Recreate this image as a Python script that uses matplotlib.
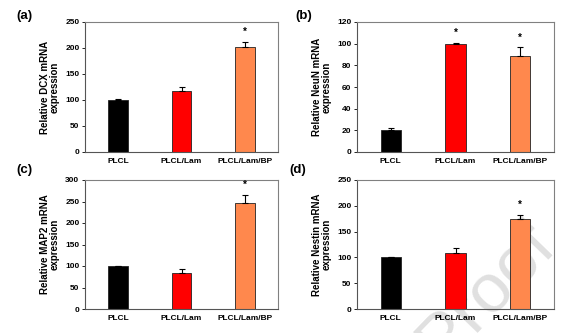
import matplotlib.pyplot as plt

plt.rcParams['font.family'] = ['Liberation Sans', 'DejaVu Sans']
plt.rcParams['font.weight'] = 'bold'

groups = ['PLCL', 'PLCL/Lam', 'PLCL/Lam/BP']
colors = ['#000000', '#ff0000', '#ff884d']

dcx = [100, 117, 202]
dcx_err = [1, 8, 10]
neun = [20, 100, 89]
neun_err = [2, 1, 8]
map2 = [100, 84, 246]
map2_err = [1, 10, 20]
nestin = [100, 109, 175]
nestin_err = [1, 9, 8]

# which bars get a significance star
dcx_sig = [False, False, True]
neun_sig = [False, True, True]
map2_sig = [False, False, True]
nestin_sig = [False, False, True]

panels = [
    ('(a)', 'Relative DCX mRNA\nexpression', dcx, dcx_err, dcx_sig, 250, 50),
    ('(b)', 'Relative NeuN mRNA\nexpression', neun, neun_err, neun_sig, 120, 20),
    ('(c)', 'Relative MAP2 mRNA\nexpression', map2, map2_err, map2_sig, 300, 50),
    ('(d)', 'Relative Nestin mRNA\nexpression', nestin, nestin_err, nestin_sig, 250, 50),
]

W, H = 576, 333
fig = plt.figure(figsize=(W / 100, H / 100), dpi=100)

# axes boxes in pixels: left, top, right, bottom
boxes = [(85, 22, 278, 152), (357, 22, 554, 152),
         (85, 180, 278, 309), (357, 180, 554, 309)]
letter_pos = [(16, 16), (295, 16), (16, 170), (289, 170)]

for (tag, ylabel, vals, errs, sig, ymax, step), (l, t, r, b), (lx, ly) in zip(panels, boxes, letter_pos):
    ax = fig.add_axes([l / W, 1 - b / H, (r - l) / W, (b - t) / H])
    ax.set_facecolor('none')
    x = range(len(groups))
    ax.bar(x, vals, width=0.31, color=colors, edgecolor='#222222', linewidth=0.6, zorder=2)
    ax.errorbar(x, vals, yerr=[[0] * len(errs), errs], fmt='none', ecolor='black',
                elinewidth=0.8, capsize=2.2, capthick=0.8, zorder=3)
    for xi, v, e, s in zip(x, vals, errs, sig):
        if s:
            ax.text(xi, v + e + ymax * 0.035, '*', ha='center', va='bottom', fontsize=7)
    ax.set_xlim(-0.52, 2.52)
    ax.set_ylim(0, ymax)
    ax.set_yticks(range(0, ymax + 1, step))
    ax.set_xticks(list(x))
    ax.set_xticklabels(groups, fontsize=6, fontweight='bold')
    ax.tick_params(axis='x', length=0, pad=4)
    ax.tick_params(axis='y', labelsize=6, length=2, width=0.6, pad=2)
    for lab in ax.get_yticklabels():
        lab.set_fontweight('bold')
    ax.set_ylabel(ylabel, fontsize=7, fontweight='bold', labelpad=4, linespacing=1.0)
    for side in ['top', 'right']:
        ax.spines[side].set_color('#808080')
        ax.spines[side].set_linewidth(0.8)
    for side in ['left', 'bottom']:
        ax.spines[side].set_color('#555555')
        ax.spines[side].set_linewidth(0.8)
    fig.text(lx / W, 1 - ly / H, tag, fontsize=9.5, fontweight='bold', ha='left', va='center')

# light watermark behind the lower right panel
fig.text(486 / W, 1 - 292 / H, 'Proof', fontsize=50, color='#e0e0e0',
         rotation=46, ha='center', va='center', fontweight='normal', zorder=-1)

fig.savefig('out.png', dpi=100)
